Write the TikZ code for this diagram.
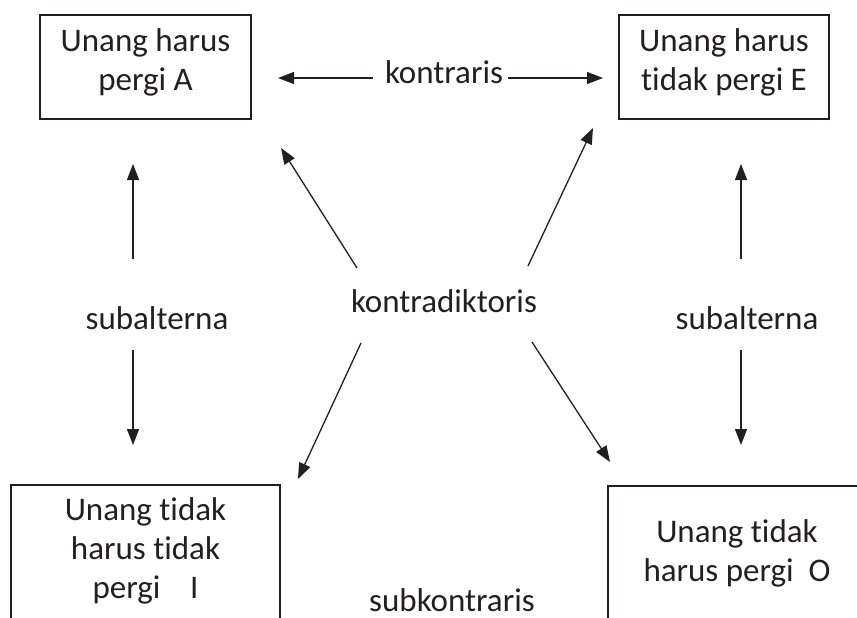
\documentclass[tikz,border=0pt]{standalone}
\usepackage{fontspec}
\setmainfont{Carlito}[Ligatures=NoCommon]
\usetikzlibrary{arrows.meta}
\definecolor{ink}{RGB}{35,31,32}
\begin{document}
\begin{tikzpicture}[x=1pt,y=-1pt,
  every node/.style={text=ink,font=\fontsize{33}{39}\selectfont},
  frame/.style={draw=ink,line width=1.4pt,rectangle,inner sep=0pt},
  txt/.style={anchor=base,inner sep=0pt},
  arr/.style={draw=ink,line width=1.3pt,-{Triangle[length=16pt,width=12pt]}}]
\useasboundingbox (0,0) rectangle (857,618);

% the four proposition boxes
\node[frame,minimum width=211pt,minimum height=104pt] (boxA) at (145.5,67) {};
\node[frame,minimum width=210pt,minimum height=104pt] (boxE) at (724,67) {};
\node[frame,minimum width=269pt,minimum height=160pt] (boxI) at (145.5,565) {};
\node[frame,minimum width=270pt,minimum height=160pt] (boxO) at (743,566) {};

% box texts
\node[txt] (a1) at (145.5,52) {Unang harus};
\node[txt] (a2) at (145.5,91) {pergi A};
\node[txt] (e1) at (724,52) {Unang harus};
\node[txt] (e2) at (724,91) {tidak pergi E};
\node[txt] (i1) at (145.5,520) {Unang tidak};
\node[txt] (i2) at (145.5,559) {harus tidak};
\node[txt] (i3) at (145.5,598) {pergi\hspace{0.9em}I};
\node[txt] (o1) at (737,542) {Unang tidak};
\node[txt] (o2) at (737,581) {harus pergi\hspace{0.45em}O};

% relation labels
\node[txt] (kontraris) at (444,84) {kontraris};
\node[txt] (kontradiktoris) at (444,312) {kontradiktoris};
\node[txt] (subL) at (157,329) {subalterna};
\node[txt] (subR) at (747,329) {subalterna};
\node[txt] (subk) at (452,611) {subkontraris};

% arrow end points
\coordinate (kL0) at (373,78);  \coordinate (kL1) at (278,78);
\coordinate (kR0) at (508,78);  \coordinate (kR1) at (603,78);
\coordinate (sLu0) at (133,259); \coordinate (sLu1) at (133,164);
\coordinate (sLd0) at (133,350); \coordinate (sLd1) at (133,445);
\coordinate (sRu0) at (741,259); \coordinate (sRu1) at (741,164);
\coordinate (sRd0) at (741,350); \coordinate (sRd1) at (741,445);
\coordinate (nw0) at (357,268); \coordinate (nw1) at (281,148);
\coordinate (ne0) at (528,266); \coordinate (ne1) at (593,128);
\coordinate (sw0) at (361,343); \coordinate (sw1) at (298,479);
\coordinate (se0) at (532,342); \coordinate (se1) at (610,462);

% connectors
\draw[arr] (kL0) -- (kL1);
\draw[arr] (kR0) -- (kR1);
\draw[arr] (sLu0) -- (sLu1);
\draw[arr] (sLd0) -- (sLd1);
\draw[arr] (sRu0) -- (sRu1);
\draw[arr] (sRd0) -- (sRd1);
\draw[arr] (nw0) -- (nw1);
\draw[arr] (ne0) -- (ne1);
\draw[arr] (sw0) -- (sw1);
\draw[arr] (se0) -- (se1);
\end{tikzpicture}
\end{document}
